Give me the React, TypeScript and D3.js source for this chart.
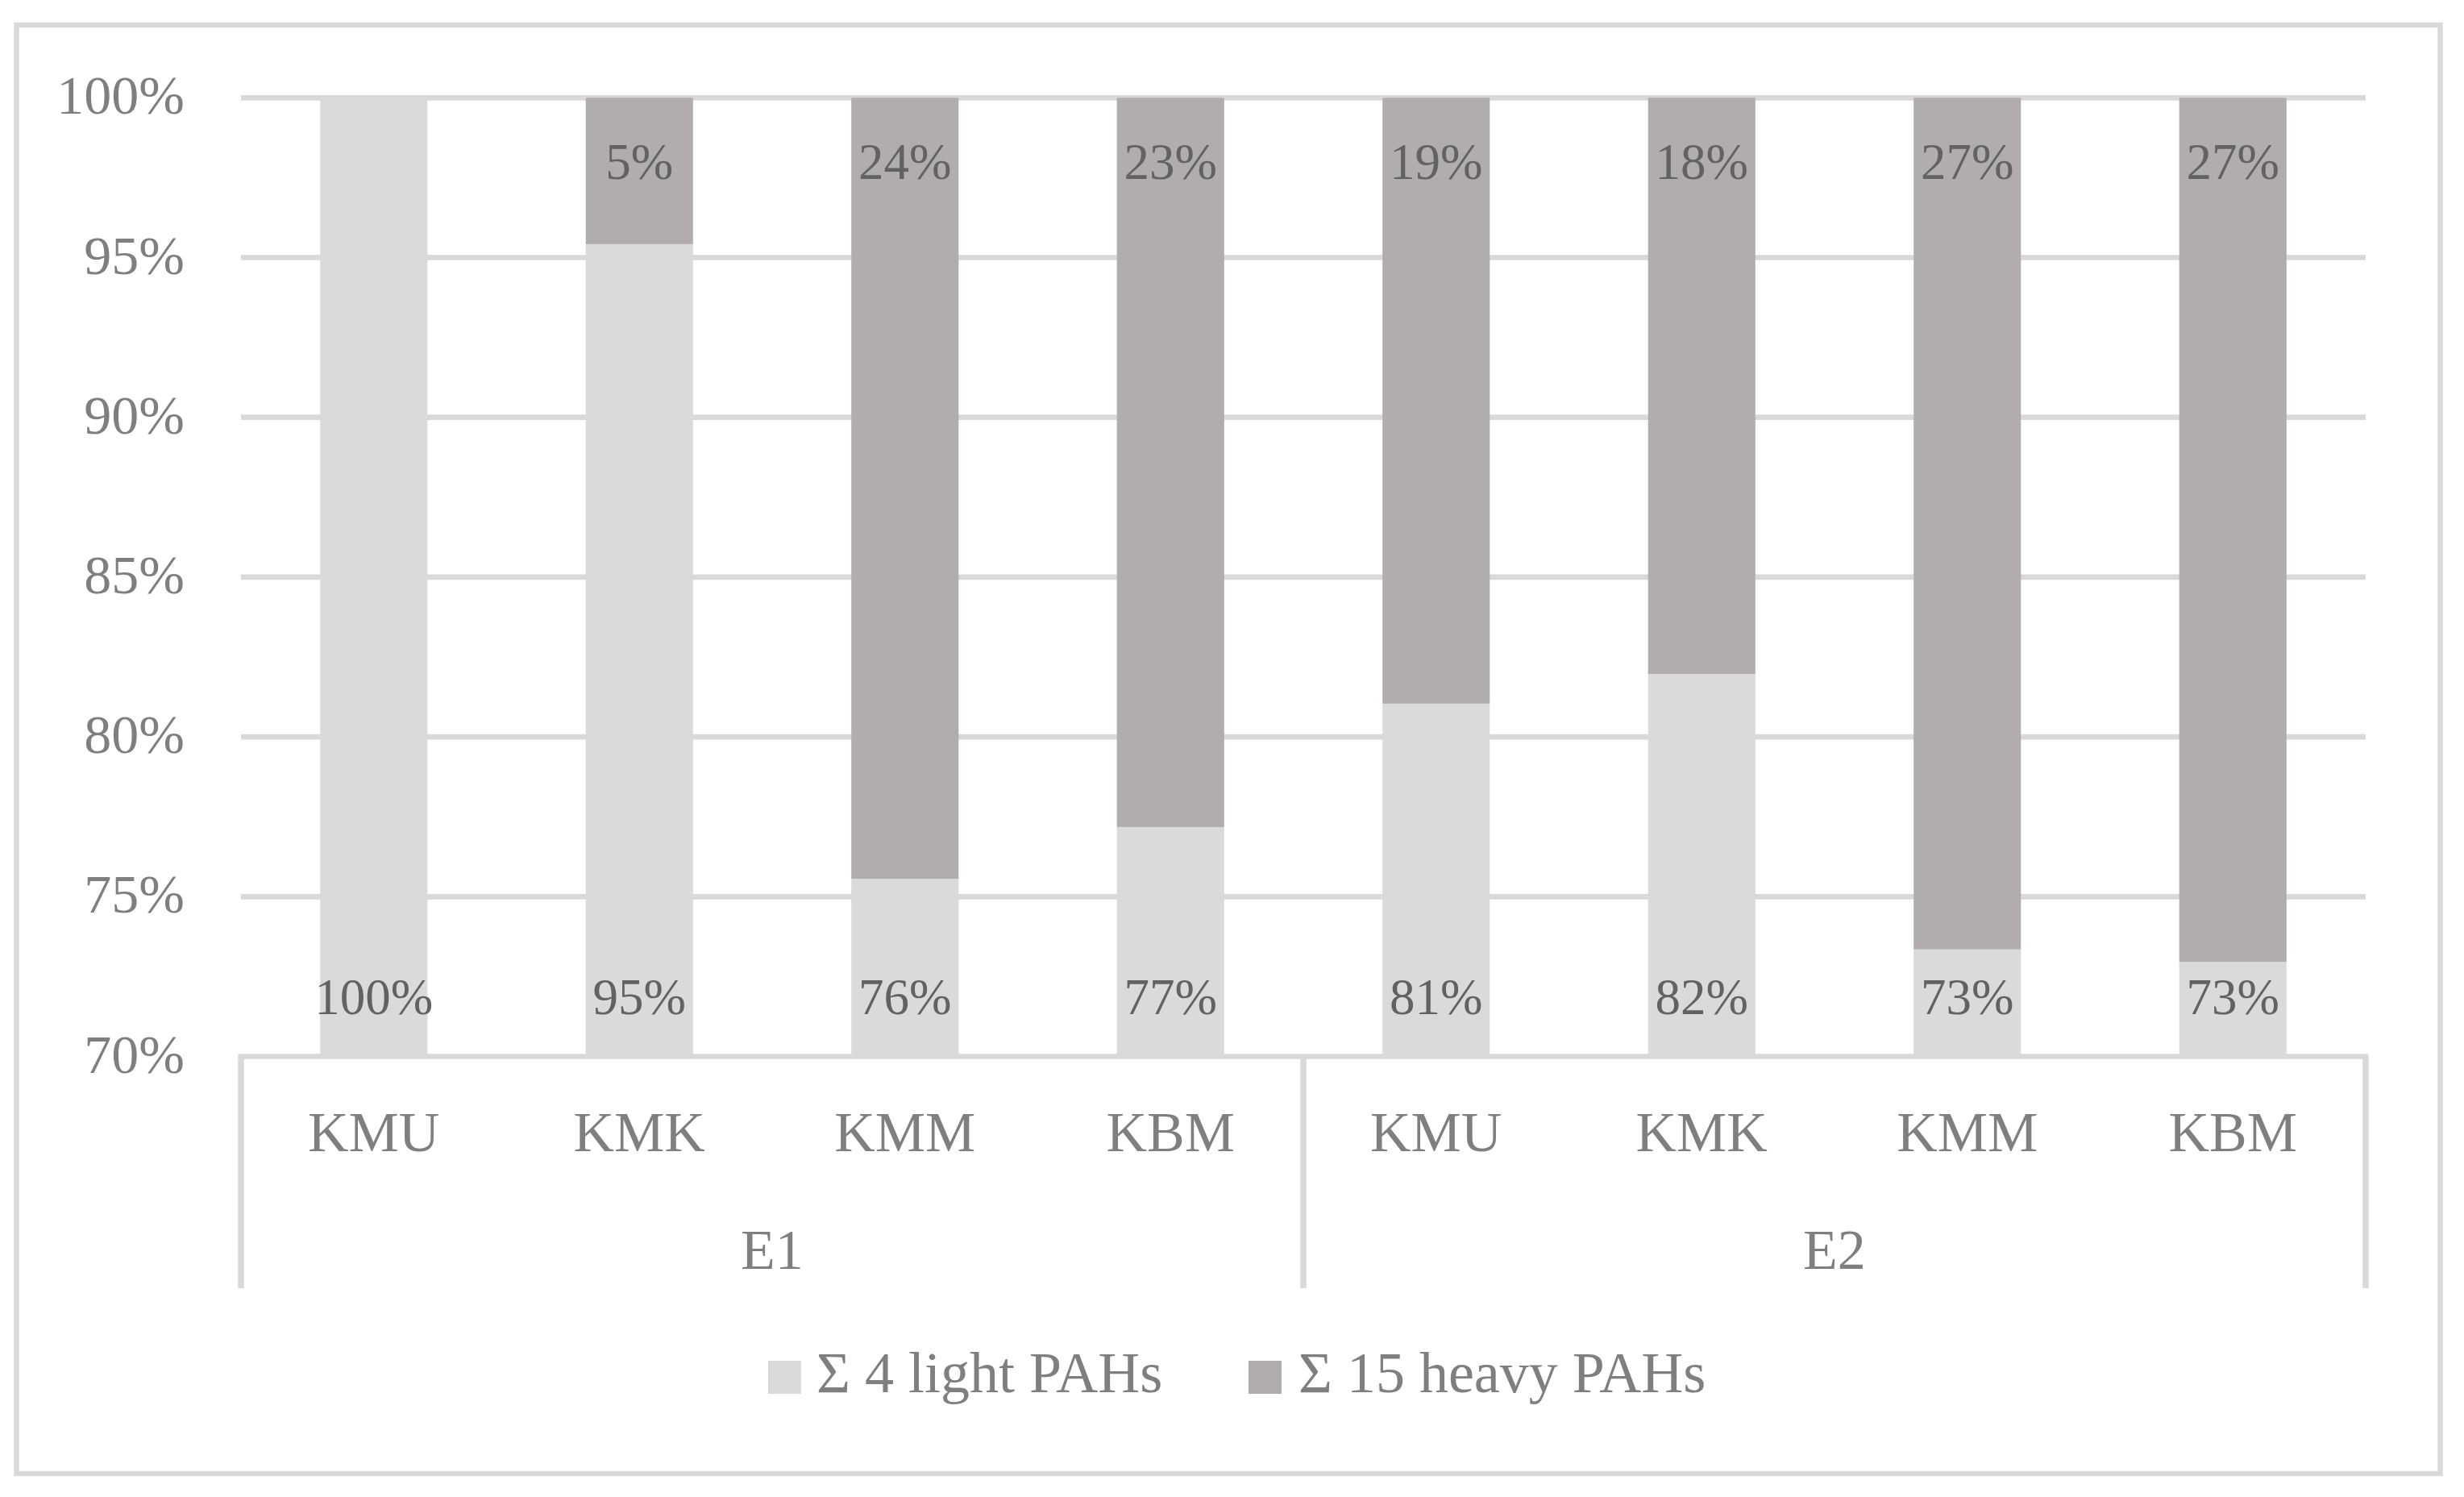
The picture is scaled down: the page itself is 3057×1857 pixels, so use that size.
import React from "react";
import * as d3 from "d3";

const categories = ["KMU", "KMK", "KMM", "KBM", "KMU", "KMK", "KMM", "KBM"];
const groups = ["E1", "E2"];
const groupSize = 4;
const lightValues = [100, 95.42, 75.56, 77.18, 81.04, 81.97, 73.35, 72.96];
const heavyValues = [0, 4.58, 24.44, 22.82, 18.96, 18.03, 26.65, 27.04];
const seriesNames = ["\u03a3 4 light PAHs", "\u03a3 15 heavy PAHs"];
const yTicks = [70, 75, 80, 85, 90, 95, 100];

const W = 3057;
const H = 1857;
const plotLeft = 299;
const plotRight = 2935;
const plotTop = 121.3;
const plotBottom = 1310.5;

const LIGHT = "#dadada";
const HEAVY = "#b0adac";
const GRID = "#d9d9d9";
const AXIS_TEXT = "#7f7f7f";
const LABEL_TEXT = "#626262";
const FONT = "'Liberation Serif', 'Times New Roman', serif";

export default function App() {
  const idx = categories.map((_, i) => i);
  const x = d3
    .scaleBand<number>()
    .domain(idx)
    .range([plotLeft, plotRight])
    .paddingInner(0.596)
    .paddingOuter(0.298);
  const y = d3.scaleLinear().domain([70, 100]).range([plotBottom, plotTop]);
  const step = x.step();
  const bw = x.bandwidth();

  const groupBounds = groups.map((g, gi) => {
    const start = plotLeft + gi * groupSize * step;
    const end = start + groupSize * step;
    return { g, start, end, mid: (start + end) / 2 };
  });
  const sepXs = [plotLeft, ...groupBounds.map((b) => b.end)];

  return (
    <svg
      width={W}
      height={H}
      style={{ position: "absolute", left: 0, top: 0, background: "#fff" }}
      fontFamily={FONT}
    >
      <rect x={0} y={0} width={W} height={H} fill="#fff" />
      {/* outer border */}
      <rect x={20.5} y={31} width={3007} height={1797} fill="none" stroke={GRID} strokeWidth={6.5} />

      {/* gridlines */}
      {yTicks.slice(1).map((t) => (
        <line key={t} x1={plotLeft} x2={plotRight} y1={y(t)} y2={y(t)} stroke={GRID} strokeWidth={6.7} />
      ))}

      {/* y tick labels */}
      {yTicks.map((t) => (
        <text key={"yl" + t} x={229} y={y(t) + 20} textAnchor="end" fontSize={68} fill={AXIS_TEXT}>
          {t}%
        </text>
      ))}

      {/* bars */}
      {idx.map((i) => {
        const x0 = x(i) as number;
        const lightTop = y(lightValues[i]);
        const heavyTop = y(lightValues[i] + heavyValues[i]);
        return (
          <g key={"b" + i}>
            <rect x={x0} y={lightTop} width={bw} height={plotBottom - lightTop} fill={LIGHT} />
            {heavyValues[i] > 0 && (
              <rect x={x0} y={heavyTop} width={bw} height={lightTop - heavyTop} fill={HEAVY} />
            )}
          </g>
        );
      })}

      {/* data labels */}
      {idx.map((i) => {
        const cx = (x(i) as number) + bw / 2;
        return (
          <g key={"l" + i}>
            <text x={cx} y={plotBottom - 53} textAnchor="middle" fontSize={63} fill={LABEL_TEXT}>
              {Math.round(lightValues[i])}%
            </text>
            {heavyValues[i] > 0 && (
              <text x={cx} y={plotTop + 101} textAnchor="middle" fontSize={63} fill={LABEL_TEXT}>
                {Math.round(heavyValues[i])}%
              </text>
            )}
          </g>
        );
      })}

      {/* category axis line */}
      <line x1={plotLeft - 3.5} x2={plotRight + 3.5} y1={plotBottom} y2={plotBottom} stroke={GRID} strokeWidth={6.7} />
      {sepXs.map((sx, k) => (
        <line key={"s" + k} x1={sx} x2={sx} y1={plotBottom} y2={1598} stroke={GRID} strokeWidth={7.5} />
      ))}

      {/* category labels */}
      {idx.map((i) => (
        <text
          key={"c" + i}
          x={(x(i) as number) + bw / 2}
          y={1428}
          textAnchor="middle"
          fontSize={70}
          fill={AXIS_TEXT}
        >
          {categories[i]}
        </text>
      ))}
      {groupBounds.map((b) => (
        <text key={b.g} x={b.mid} y={1574} textAnchor="middle" fontSize={70} fill={AXIS_TEXT}>
          {b.g}
        </text>
      ))}

      {/* legend */}
      <rect x={953} y={1688} width={41} height={41} fill={LIGHT} />
      <text x={1013} y={1727} fontSize={72} fill={AXIS_TEXT}>
        {seriesNames[0]}
      </text>
      <rect x={1549} y={1688} width={41} height={41} fill={HEAVY} />
      <text x={1611} y={1727} fontSize={72} fill={AXIS_TEXT}>
        {seriesNames[1]}
      </text>
    </svg>
  );
}
